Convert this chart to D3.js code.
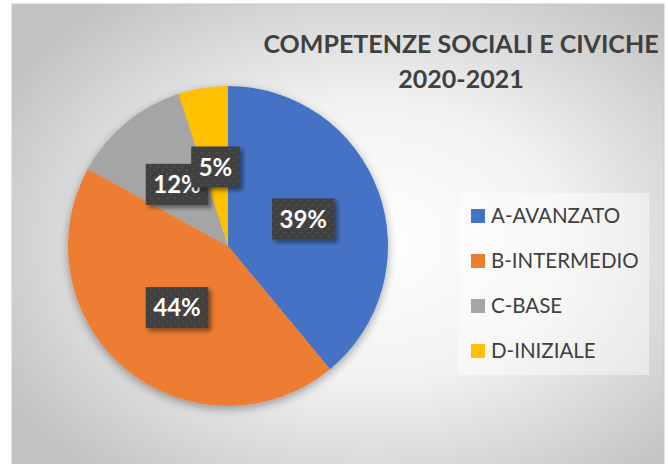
<!DOCTYPE html>
<html>
<head>
<script src="https://d3js.org/d3.v7.min.js"></script>
<style>
  body { margin: 0; background: #fff; }
  svg { display: block; }
</style>
</head>
<body>
<script>
// data
var categories = ["A-AVANZATO", "B-INTERMEDIO", "C-BASE", "D-INIZIALE"];
var values = [39, 44, 12, 5];
var colors = ["#4472C4", "#ED7D31", "#A5A5A5", "#FFC000"];
var titleLines = ["COMPETENZE SOCIALI E CIVICHE", "2020-2021"];

var W = 668, H = 464;
var svg = d3.select("body").append("svg").attr("width", W).attr("height", H);
var defs = svg.append("defs");

var bg = defs.append("radialGradient").attr("id", "bg")
    .attr("cx", "55%").attr("cy", "50%").attr("r", "65%");
bg.append("stop").attr("offset", "0%").attr("stop-color", "#ffffff");
bg.append("stop").attr("offset", "45%").attr("stop-color", "#f2f2f2");
bg.append("stop").attr("offset", "100%").attr("stop-color", "#c2c2c2");

var sh = defs.append("filter").attr("id", "pieShadow")
    .attr("x", "-20%").attr("y", "-20%").attr("width", "140%").attr("height", "140%");
sh.append("feDropShadow").attr("dx", 0).attr("dy", 3).attr("stdDeviation", 5)
    .attr("flood-color", "#000").attr("flood-opacity", 0.35);

var lsh = defs.append("filter").attr("id", "lblShadow")
    .attr("x", "-30%").attr("y", "-30%").attr("width", "160%").attr("height", "160%");
lsh.append("feDropShadow").attr("dx", 3).attr("dy", 3).attr("stdDeviation", 2)
    .attr("flood-color", "#000").attr("flood-opacity", 0.45);

var pat = defs.append("pattern").attr("id", "dots")
    .attr("patternUnits", "userSpaceOnUse").attr("width", 8).attr("height", 8);
pat.append("rect").attr("width", 8).attr("height", 8).attr("fill", "#404040");
pat.append("rect").attr("x", 1).attr("y", 1).attr("width", 1.5).attr("height", 1.5).attr("fill", "#565656");
pat.append("rect").attr("x", 5).attr("y", 5).attr("width", 1.5).attr("height", 1.5).attr("fill", "#565656");

// chart area
svg.append("rect").attr("x", 12).attr("y", 4).attr("width", 652).attr("height", 475)
    .attr("fill", "url(#bg)").attr("stroke", "#c8c8c8").attr("stroke-width", 1);

// title
svg.append("g").selectAll("text").data(titleLines).enter().append("text")
    .attr("x", 461).attr("y", function(d, i) { return 53 + i * 35; })
    .attr("text-anchor", "middle")
    .style("font-family", "Lato, 'Open Sans', sans-serif")
    .style("font-weight", "bold").style("font-size", "25px")
    .attr("fill", "#404040")
    .text(function(d) { return d; });

// pie
var cx = 228, cy = 246, r = 160;
var pie = d3.pie().sort(null).value(function(d) { return d; });
var arc = d3.arc().innerRadius(0).outerRadius(r);
var arcs = pie(values);

var g = svg.append("g").attr("transform", "translate(" + cx + "," + cy + ")");
g.append("g").attr("filter", "url(#pieShadow)")
    .selectAll("path").data(arcs).enter().append("path")
    .attr("d", arc)
    .attr("fill", function(d, i) { return colors[i]; });

// data labels
var lbl = g.selectAll(".lbl").data(arcs).enter().append("g")
    .attr("class", "lbl")
    .attr("transform", function(d) { return "translate(" + arc.centroid(d) + ")"; });
lbl.append("rect").attr("filter", "url(#lblShadow)").attr("fill", "url(#dots)");
lbl.append("text")
    .attr("text-anchor", "middle").attr("dy", "0.36em")
    .style("font-family", "Lato, 'Open Sans', sans-serif")
    .style("font-weight", "bold").style("font-size", "24px")
    .attr("fill", "#fff")
    .text(function(d) { return d.data + "%"; });
lbl.each(function() {
  var t = d3.select(this).select("text").node().getComputedTextLength();
  var w = t + 15, h = 41;
  d3.select(this).select("rect")
    .attr("x", -w / 2).attr("y", -h / 2).attr("width", w).attr("height", h);
});

// legend
svg.append("rect").attr("x", 459).attr("y", 193).attr("width", 190).attr("height", 182)
    .attr("fill", "#ffffff").attr("fill-opacity", 0.45);
var leg = svg.append("g").selectAll("g").data(categories).enter().append("g")
    .attr("transform", function(d, i) { return "translate(471," + (216 + i * 45) + ")"; });
leg.append("rect").attr("x", 0).attr("y", -7).attr("width", 14).attr("height", 14)
    .attr("fill", function(d, i) { return colors[i]; });
leg.append("text").attr("x", 20).attr("dy", "0.36em")
    .style("font-family", "Lato, 'Open Sans', sans-serif")
    .style("font-size", "20.5px").attr("fill", "#404040")
    .text(function(d) { return d; });
</script>
</body>
</html>
